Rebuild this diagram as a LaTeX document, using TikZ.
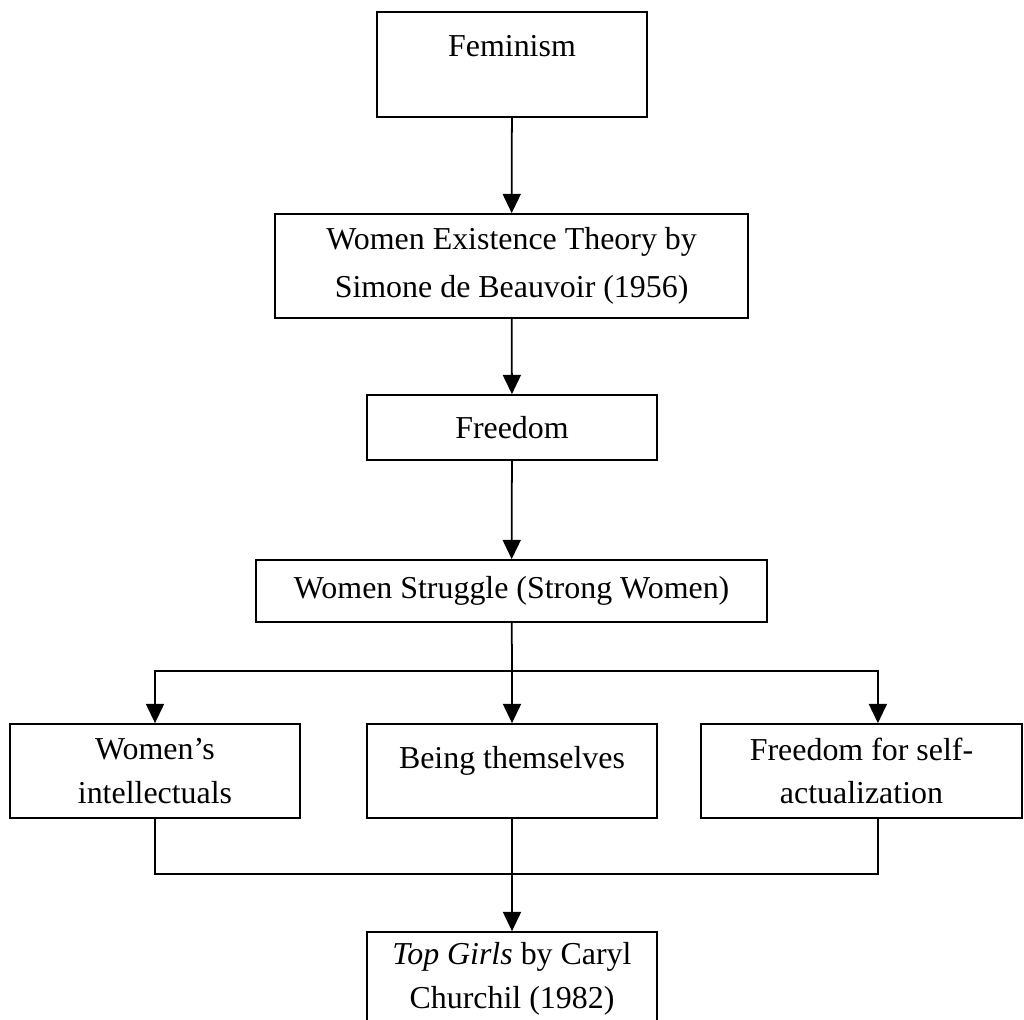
\documentclass[tikz,border=0pt]{standalone}
\usepackage{fontspec}
\setmainfont{Liberation Serif}
\usetikzlibrary{arrows.meta}

\begin{document}
\begin{tikzpicture}[
		every node/.style={font=\fontsize{22.7}{31}\selectfont},
		box/.style={draw, line width=1.25pt, align=center, inner sep=0pt},
		link/.style={line width=1.25pt, -{Triangle[length=0.48cm, width=0.45cm]}},
		wire/.style={line width=1.25pt}
	]
	\useasboundingbox (0,0) rectangle (25.6,-25.5);

	\node[box, minimum width=6.75cm, text height=1.125cm, text depth=1.5cm] (feminism) at (12.8,-1.6125) {Feminism};
	\node[box, minimum width=11.825cm, minimum height=2.6cm] (theory) at (12.79,-6.65) {Women Existence Theory by\\[3pt]Simone de Beauvoir (1956)};
	\node[box, minimum width=7.25cm, minimum height=1.625cm] (freedom) at (12.8,-10.6875) {Freedom};
	\node[box, minimum width=12.775cm, minimum height=1.55cm] (struggle) at (12.79,-14.775) {Women Struggle (Strong Women)};

	\node[box, minimum width=7.25cm, minimum height=2.35cm] (intellect) at (3.875,-19.275) {Women’s\\intellectuals};
	\node[box, minimum width=7.25cm, text height=1.1cm, text depth=1.25cm] (selves) at (12.8,-19.275) {Being themselves};
	\node[box, minimum width=8.025cm, minimum height=2.35cm] (selfact) at (21.5375,-19.275) {Freedom for self-\\actualization};

	\node[box, minimum width=7.25cm, minimum height=2.35cm] (topgirls) at (12.8,-24.475) {\textit{Top Girls} by Caryl\\Churchil (1982)};

	\draw[link] (feminism) -- (theory);
	\draw[link] (theory) -- (freedom);
	\draw[link] (freedom) -- (struggle);

	\coordinate (fork) at (12.8,-16.775);
	\draw[wire] (struggle) -- (fork);
	\draw[link] (fork) -| (intellect.north);
	\draw[link] (fork) -- (selves);
	\draw[link] (fork) -| ([xshift=0.41cm]selfact.north);

	\coordinate (join) at (12.8,-21.85);
	\draw[wire] (intellect.south) |- (join) -| ([xshift=0.41cm]selfact.south);
	\draw[link] (selves) -- (topgirls);
\end{tikzpicture}
\end{document}
